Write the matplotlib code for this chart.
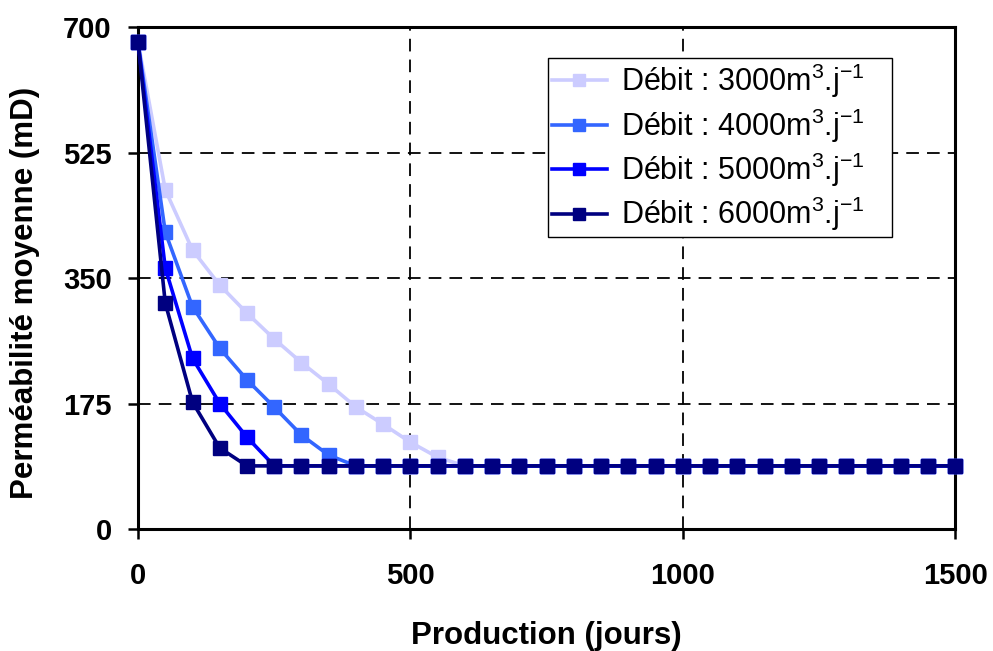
import matplotlib
matplotlib.use("Agg")
from matplotlib import pyplot as plt
import numpy as np

plt.rcParams['font.family'] = ['Liberation Sans', 'DejaVu Sans']
plt.rcParams['mathtext.default'] = 'regular'

# production days, one point every 50 days
jours = np.arange(0, 1501, 50)

# plateau value reached by every curve
plateau = 88

# decreasing part of each curve, then flat at the plateau
debut_3000 = [679, 473, 389, 340, 301, 265, 232, 202, 170, 146, 121, 100]
debut_4000 = [679, 414, 310, 252, 208, 170, 131, 103]
debut_5000 = [679, 364, 238, 175, 128]
debut_6000 = [679, 315, 177, 113]

labels = ['Débit : 3000m$^3$.j$^{-1}$', 'Débit : 4000m$^3$.j$^{-1}$',
          'Débit : 5000m$^3$.j$^{-1}$', 'Débit : 6000m$^3$.j$^{-1}$']
couleurs = ['#CCCCFF', '#3366FF', '#0000FF', '#000080']


def serie(debut):
    return debut + [plateau] * (len(jours) - len(debut))


fig = plt.figure(figsize=(9.93, 6.51), dpi=100)
ax = fig.add_axes([0.139, 0.1874, 0.823, 0.7711])

for debut, lab, c in zip([debut_3000, debut_4000, debut_5000, debut_6000], labels, couleurs):
    ax.plot(jours, serie(debut), color=c, marker='s', markersize=10,
            linewidth=2.6, label=lab, clip_on=False, zorder=3)

ax.set_xlim(0, 1500)
ax.set_ylim(0, 700)
ax.set_xticks([0, 500, 1000, 1500])
ax.set_yticks([0, 175, 350, 525, 700])
ax.grid(True, color='black', linestyle=(0, (7, 4.5)), linewidth=1.3)
ax.set_axisbelow(True)

for sp in ax.spines.values():
    sp.set_linewidth(2.2)
ax.tick_params(direction='out', width=1.8, length=7, labelsize=21)
ax.tick_params(axis='x', pad=17)
ax.tick_params(axis='y', pad=12)
for t in ax.get_xticklabels() + ax.get_yticklabels():
    t.set_fontweight('bold')

ax.set_xlabel('Production (jours)', fontsize=22.5, fontweight='bold', labelpad=22)
ax.set_ylabel('Perméabilité moyenne (mD)', fontsize=22.5, fontweight='bold')
ax.yaxis.set_label_coords(-0.12, 0.47)

# legend box stretched to the width seen in the original
leg = ax.legend(loc='upper left', bbox_to_anchor=(0.502, 0.5, 0.42, 0.438),
                mode='expand', borderaxespad=0,
                fontsize=22, frameon=True, fancybox=False, edgecolor='black',
                framealpha=1, handlelength=1.8, handletextpad=0.45,
                borderpad=0.12, labelspacing=0.2, markerscale=0.8)
leg.get_frame().set_linewidth(1.0)

fig.savefig('out.png', dpi=100)
